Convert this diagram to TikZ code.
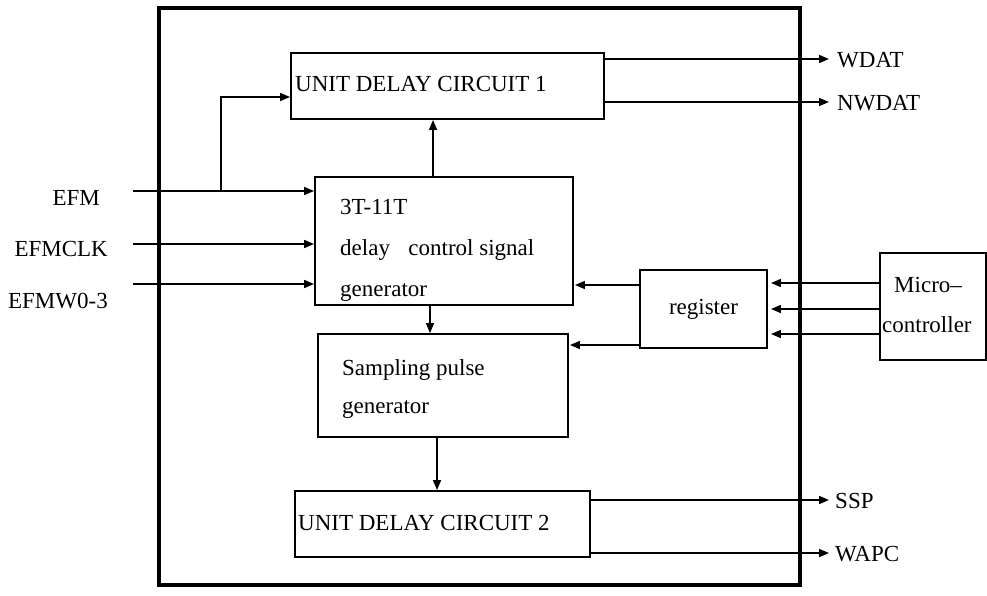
\documentclass[tikz,border=0pt]{standalone}
\usepackage{fontspec}
\setmainfont{Liberation Serif}
\usetikzlibrary{arrows.meta}
\begin{document}
\begin{tikzpicture}[x=1pt,y=-1pt,
  blk/.style={draw,line width=1.9pt,inner sep=0pt},
  outerbox/.style={draw,line width=3.4pt,inner sep=0pt},
  arr/.style={line width=1.6pt,-{Triangle[length=10pt,width=8pt]}},
  txt/.style={inner sep=0pt,font=\fontsize{23}{27}\selectfont},
  every node/.style={inner sep=0pt}]
\useasboundingbox (0,0) rectangle (987,595);
% outer frame
\node[outerbox,minimum width=641pt,minimum height=577pt] (frame) at (479.5,296.5) {};
% blocks
\node[blk,minimum width=313pt,minimum height=66pt] (udc1) at (447.5,86) {};
\node[blk,minimum width=258pt,minimum height=128pt] (gen) at (444,241) {};
\node[blk,minimum width=250pt,minimum height=103pt] (samp) at (443,385.5) {};
\node[blk,minimum width=295pt,minimum height=66pt] (udc2) at (442.5,524) {};
\node[blk,minimum width=127pt,minimum height=78pt] (reg) at (703.5,309) {};
\node[blk,minimum width=106pt,minimum height=107pt] (mc) at (933,306.5) {};
% texts in blocks
\node[txt,anchor=base west] (t1) at (295,91) {UNIT DELAY CIRCUIT 1};
\node[txt,anchor=base west] (t2a) at (340,214) {3T-11T};
\node[txt,anchor=base west] (t2b) at (340,255) {delay\hspace{0.8em}control signal};
\node[txt,anchor=base west] (t2c) at (340,296) {generator};
\node[txt,anchor=base west] (t3a) at (342,375) {Sampling pulse};
\node[txt,anchor=base west] (t3b) at (342,413) {generator};
\node[txt,anchor=base west] (t4) at (298,530) {UNIT DELAY CIRCUIT 2};
\node[txt] (t5) at (reg.center) {register};
\node[txt,anchor=base west] (t6a) at (894,292) {Micro--};
\node[txt,anchor=base west] (t6b) at (882,332) {controller};
% input labels
\node[txt,anchor=base east] (lefm) at (100,205) {EFM};
\node[txt,anchor=base east] (lclk) at (108,256) {EFMCLK};
\node[txt,anchor=base east] (lw) at (108,308) {EFMW0-3};
% output labels
\node[txt,anchor=base west] (lwdat) at (837,67) {WDAT};
\node[txt,anchor=base west] (lnwdat) at (837,110) {NWDAT};
\node[txt,anchor=base west] (lssp) at (835,508) {SSP};
\node[txt,anchor=base west] (lwapc) at (835,561) {WAPC};
% coordinates for free ends
\coordinate (inefm) at (133,191);
\coordinate (inclk) at (133,244);
\coordinate (inw) at (133,284);
\coordinate (br) at (221,191);
\coordinate (owdat) at (829,59);
\coordinate (onwdat) at (829,102);
\coordinate (ossp) at (829,500);
\coordinate (owapc) at (829,553);
% inputs
\draw[arr] (inefm) -- (gen.west |- inefm);
\draw[arr] (br) |- (udc1.west |- 0,97);
\draw[arr] (inclk) -- (gen.west |- inclk);
\draw[arr] (inw) -- (gen.west |- inw);
% vertical flows
\draw[arr] (gen.north -| 433,0) -- (udc1.south -| 433,0);
\draw[arr] (gen.south -| 430,0) -- (samp.north -| 430,0);
\draw[arr] (samp.south -| 437,0) -- (udc2.north -| 437,0);
% register
\draw[arr] (reg.west |- 0,285) -- ([xshift=1pt]gen.east |- 0,285);
\draw[arr] (reg.west |- 0,345) -- ([xshift=1pt]samp.east |- 0,345);
\draw[arr] (mc.west |- 0,283) -- ([xshift=3pt]reg.east |- 0,283);
\draw[arr] (mc.west |- 0,309) -- ([xshift=3pt]reg.east |- 0,309);
\draw[arr] (mc.west |- 0,334) -- ([xshift=3pt]reg.east |- 0,334);
% outputs
\draw[arr] (udc1.east |- owdat) -- (owdat);
\draw[arr] (udc1.east |- onwdat) -- (onwdat);
\draw[arr] (udc2.east |- ossp) -- (ossp);
\draw[arr] (udc2.east |- owapc) -- (owapc);
\end{tikzpicture}
\end{document}
